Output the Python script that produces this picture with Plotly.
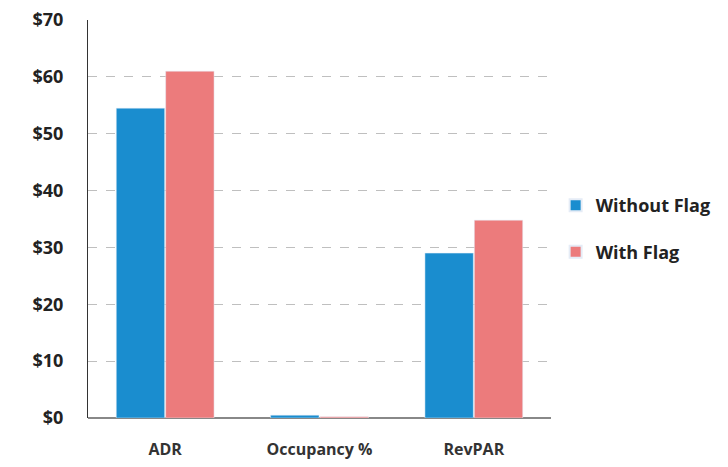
import plotly.graph_objects as go

categories = ["ADR", "Occupancy %", "RevPAR"]
without_flag = [54.5, 0.5, 29.0]
with_flag = [61.0, 0.2, 34.8]
tick_vals = [0, 10, 20, 30, 40, 50, 60, 70]
tick_text = ["$0", "$10", "$20", "$30", "$40", "$50", "$60", "$70"]

fig = go.Figure()
fig.add_trace(go.Bar(name="Without Flag", x=categories, y=without_flag,
                     marker_color="#1A8DCF", legendgroup="a"))
fig.add_trace(go.Bar(name="With Flag", x=categories, y=with_flag,
                     marker_color="#EC7B7C", legendgroup="b"))

fig.update_layout(
    width=728, height=467,
    margin=dict(l=88, r=173, t=20, b=49),
    paper_bgcolor="white", plot_bgcolor="white",
    barmode="group", bargap=0.36, bargroupgap=0.02,
    font=dict(family="Open Sans", color="#222222"),
    legend=dict(x=1.01, y=0.58, xanchor="left", yanchor="top",
                font=dict(size=18, family="Open Sans", weight="bold"),
                traceorder="grouped", tracegroupgap=20, itemsizing="constant"),
    showlegend=True,
)
fig.update_yaxes(range=[0, 70], tickvals=tick_vals, ticktext=tick_text,
                 showgrid=True, gridcolor="#BFBFBF", gridwidth=1, griddash="dash",
                 showline=True, linecolor="#333333", linewidth=1,
                 zeroline=True, zerolinecolor="#888888", automargin=False,
                 tickfont=dict(size=18, family="Open Sans", weight="bold", color="#222222"),
                 ticklabelstandoff=20)
fig.update_xaxes(showline=False, automargin=False,
                 tickfont=dict(size=16, family="Open Sans", weight="bold", color="#333333"),
                 ticklabelstandoff=20)

fig.write_html("out.html")
